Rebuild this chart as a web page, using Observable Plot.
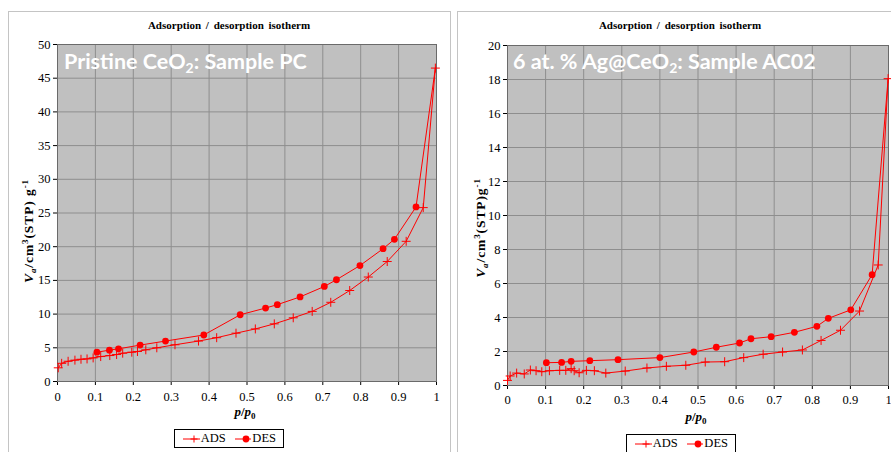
<!DOCTYPE html>
<html>
<head>
<meta charset="utf-8">
<script src="https://cdn.jsdelivr.net/npm/d3@7"></script>
<script src="https://cdn.jsdelivr.net/npm/@observablehq/plot@0.6"></script>
<style>
  body { margin: 0; background: #fff; }
  #wrap { position: relative; width: 891px; height: 452px; overflow: hidden;
          font-family: "Liberation Serif", "Times New Roman", serif; }
  .panel { position: absolute; border: 1px solid #c4c4c4; background: #fff; box-sizing: border-box; }
  .title { position: absolute; width: 240px; font-weight: bold; font-size: 11px; line-height: 13px;
           text-align: center; word-spacing: 2px; }
  .legend { position: absolute; border: 1px solid #000; background: #fff; box-sizing: border-box;
            height: 19px; display: flex; align-items: center; font-size: 12.5px; }
  .legend svg { display: block; }
  .legend span { margin-right: 7px; margin-left: 1px; }
  #wrap svg text { font-family: "Liberation Serif", "Times New Roman", serif; }
  #wrap svg text.sample { font-family: "Lato", "Open Sans", sans-serif; }
</style>
</head>
<body>
<div id="wrap"></div>
<script>
// Shared axis ticks and labels
const xTicks = [0, 0.1, 0.2, 0.3, 0.4, 0.5, 0.6, 0.7, 0.8, 0.9, 1];
const yTicksPC = [0, 5, 10, 15, 20, 25, 30, 35, 40, 45, 50];
const yTicksAC = [0, 2, 4, 6, 8, 10, 12, 14, 16, 18, 20];
const chartTitle = "Adsorption / desorption isotherm";
const seriesNames = ["ADS", "DES"];

// Pristine CeO2 (sample PC): adsorption branch
const pcAdsP = [0.002, 0.011, 0.028, 0.046, 0.062, 0.078, 0.094, 0.114, 0.138, 0.156, 0.172, 0.196, 0.211, 0.233, 0.262, 0.310, 0.372, 0.420, 0.471, 0.522, 0.572, 0.622, 0.672, 0.721, 0.771, 0.820, 0.870, 0.920, 0.965, 0.997];
const pcAdsV = [2.03, 2.7, 3.0, 3.17, 3.3, 3.35, 3.5, 3.7, 3.85, 4.0, 4.2, 4.35, 4.45, 4.7, 5.0, 5.45, 6.0, 6.5, 7.17, 7.8, 8.55, 9.45, 10.4, 11.75, 13.5, 15.5, 17.8, 20.8, 25.8, 46.5];
// Pristine CeO2 (sample PC): desorption branch
const pcDesP = [0.997, 0.946, 0.889, 0.859, 0.798, 0.736, 0.704, 0.640, 0.580, 0.549, 0.482, 0.386, 0.285, 0.218, 0.161, 0.137, 0.104];
const pcDesV = [46.5, 25.9, 21.1, 19.7, 17.2, 15.1, 14.1, 12.55, 11.4, 10.9, 9.9, 6.9, 6.0, 5.4, 4.85, 4.65, 4.35];

// 6 at.% Ag@CeO2 (sample AC02): adsorption branch
const acAdsP = [0.0, 0.007, 0.024, 0.044, 0.060, 0.075, 0.090, 0.110, 0.137, 0.153, 0.167, 0.175, 0.188, 0.207, 0.228, 0.258, 0.309, 0.366, 0.417, 0.468, 0.519, 0.570, 0.620, 0.671, 0.722, 0.774, 0.823, 0.874, 0.924, 0.973, 0.999];
const acAdsV = [0.3, 0.56, 0.73, 0.68, 0.91, 0.87, 0.81, 0.87, 0.89, 0.89, 0.99, 0.87, 0.75, 0.89, 0.87, 0.73, 0.85, 1.03, 1.13, 1.19, 1.38, 1.40, 1.64, 1.84, 1.97, 2.09, 2.65, 3.25, 4.38, 7.09, 18.05];
// 6 at.% Ag@CeO2 (sample AC02): desorption branch
const acDesP = [0.999, 0.957, 0.901, 0.842, 0.812, 0.753, 0.692, 0.639, 0.609, 0.548, 0.489, 0.400, 0.290, 0.216, 0.167, 0.142, 0.102];
const acDesV = [18.05, 6.52, 4.45, 3.95, 3.48, 3.13, 2.87, 2.75, 2.5, 2.25, 1.97, 1.64, 1.52, 1.46, 1.42, 1.36, 1.34];

const RED = "#ff0000";
const SERIF = '"Liberation Serif", "Times New Roman", serif';
const wrap = document.getElementById("wrap");

function rows(ps, vs) { return ps.map((p, i) => ({p, v: vs[i]})); }

function addText(parent, parts, attrs) {
  const t = parent.append("text");
  for (const [k, v] of Object.entries(attrs)) t.attr(k, v);
  for (const part of parts) {
    const s = t.append("tspan").text(part.text);
    if (part.style) s.attr("font-style", part.style);
    if (part.size) s.attr("font-size", part.size);
    if (part.dy) s.attr("dy", part.dy);
  }
  return t;
}

function drawPanel(cfg) {
  // white panel with thin grey border
  const box = document.createElement("div");
  box.className = "panel";
  Object.assign(box.style, {left: cfg.box[0] + "px", top: cfg.box[1] + "px", width: cfg.box[2] + "px", height: cfg.box[3] + "px"});
  wrap.appendChild(box);

  const title = document.createElement("div");
  title.className = "title";
  title.textContent = chartTitle;
  Object.assign(title.style, {left: (cfg.titleX - 120) + "px", top: cfg.titleY + "px"});
  wrap.appendChild(title);

  const ads = rows(cfg.adsP, cfg.adsV);
  const des = rows(cfg.desP, cfg.desV);

  const chart = Plot.plot({
    width: cfg.width,
    height: cfg.height,
    marginLeft: cfg.m[0], marginRight: cfg.m[1], marginTop: cfg.m[2], marginBottom: cfg.m[3],
    style: {fontFamily: SERIF, fontSize: "12.5px", color: "#000", background: "transparent", overflow: "visible"},
    x: {domain: [0, 1], ticks: xTicks, tickFormat: d => String(d), tickSize: 4, tickPadding: cfg.xPad, label: null},
    y: {domain: [0, cfg.yMax], ticks: cfg.yTicks, tickFormat: d => String(d), tickSize: 4, tickPadding: 3, label: null},
    marks: [
      Plot.frame({fill: "#c0c0c0"}),
      Plot.ruleX(xTicks.slice(1, -1), {stroke: "#8e8e8e", strokeWidth: 1}),
      Plot.ruleY(cfg.yTicks.slice(1, -1), {stroke: "#8e8e8e", strokeWidth: 1}),
      Plot.frame({stroke: "#6a6a6a", strokeWidth: 1}),
      Plot.line(ads, {x: "p", y: "v", stroke: RED, strokeWidth: 1}),
      Plot.line(des, {x: "p", y: "v", stroke: RED, strokeWidth: 1}),
      Plot.dot(ads, {x: "p", y: "v", symbol: "plus", r: 3, stroke: RED, strokeWidth: 1}),
      Plot.dot(des, {x: "p", y: "v", r: 3.4, fill: RED, stroke: "none", filter: (d, i) => i > 0})
    ]
  });
  chart.style.position = "absolute";
  chart.style.left = cfg.left + "px";
  chart.style.top = cfg.top + "px";
  wrap.appendChild(chart);

  const svg = d3.select(chart.tagName.toLowerCase() === "svg" ? chart : chart.querySelector("svg"));

  // sample name written across the top of the plot area
  addText(svg, cfg.sample, {class: "sample", x: cfg.sampleXY[0], y: cfg.sampleXY[1], fill: "#ffffff",
    "text-anchor": "start", "font-weight": 700, "font-size": 21.5});

  // y-axis title
  addText(svg, [
    {text: "V", style: "italic"},
    {text: "a", style: "italic", size: 9, dy: 3},
    {text: "/cm", dy: -3},
    {text: "3", size: 9, dy: -5},
    {text: cfg.stpText, dy: 5},
    {text: "-1", size: 9, dy: -5}
  ], {transform: `translate(${cfg.yLab[0]},${cfg.yLab[1]}) rotate(-90)`, "text-anchor": "middle",
      "font-weight": "bold", "font-size": 13.5, "letter-spacing": 0.9});

  // x-axis title
  addText(svg, [
    {text: "p", style: "italic"},
    {text: "/"},
    {text: "p", style: "italic"},
    {text: "0", size: 9, dy: 3}
  ], {x: cfg.xLab[0], y: cfg.xLab[1], "text-anchor": "middle", "font-weight": "bold", "font-size": 13});

  // legend box
  const leg = document.createElement("div");
  leg.className = "legend";
  Object.assign(leg.style, {left: cfg.legend[0] + "px", top: cfg.legend[1] + "px", width: "110px"});
  const markers = [
    '<path d="M11,1.5V8.5M7.5,5H14.5" stroke="' + RED + '" stroke-width="1"/>',
    '<circle cx="11" cy="5" r="3.4" fill="' + RED + '"/>'
  ];
  leg.innerHTML = seriesNames.map((name, i) =>
    `<svg width="22" height="10" style="margin-left:${i ? 2 : 8}px"><line x1="0" x2="22" y1="5" y2="5" stroke="${RED}" stroke-width="1"/>${markers[i]}</svg><span>${name}</span>`
  ).join("");
  wrap.appendChild(leg);
}

drawPanel({
  box: [8, 11, 443, 460], titleX: 229, titleY: 19,
  left: 0, top: 36, width: 450, height: 392, m: [57, 14, 8, 47], xPad: 7,
  yMax: 50, yTicks: yTicksPC,
  adsP: pcAdsP, adsV: pcAdsV, desP: pcDesP, desV: pcDesV,
  sample: [{text: "Pristine CeO"}, {text: "2", size: 14, dy: 4}, {text: ": Sample PC", dy: -4}],
  sampleXY: [64, 32.5],
  stpText: "(STP) g",
  yLab: [33, 195], xLab: [245, 380],
  legend: [174, 429]
});

drawPanel({
  box: [457, 11, 450, 460], titleX: 680, titleY: 19,
  left: 450, top: 36, width: 441, height: 398, m: [57, 3, 9, 49], xPad: 6,
  yMax: 20, yTicks: yTicksAC,
  adsP: acAdsP, adsV: acAdsV, desP: acDesP, desV: acDesV,
  sample: [{text: "6 at. % Ag@CeO"}, {text: "2", size: 14, dy: 4}, {text: ": Sample AC02", dy: -4}],
  sampleXY: [63, 33],
  stpText: "(STP)g",
  yLab: [35, 192], xLab: [246, 385],
  legend: [626, 434]
});
</script>
</body>
</html>
